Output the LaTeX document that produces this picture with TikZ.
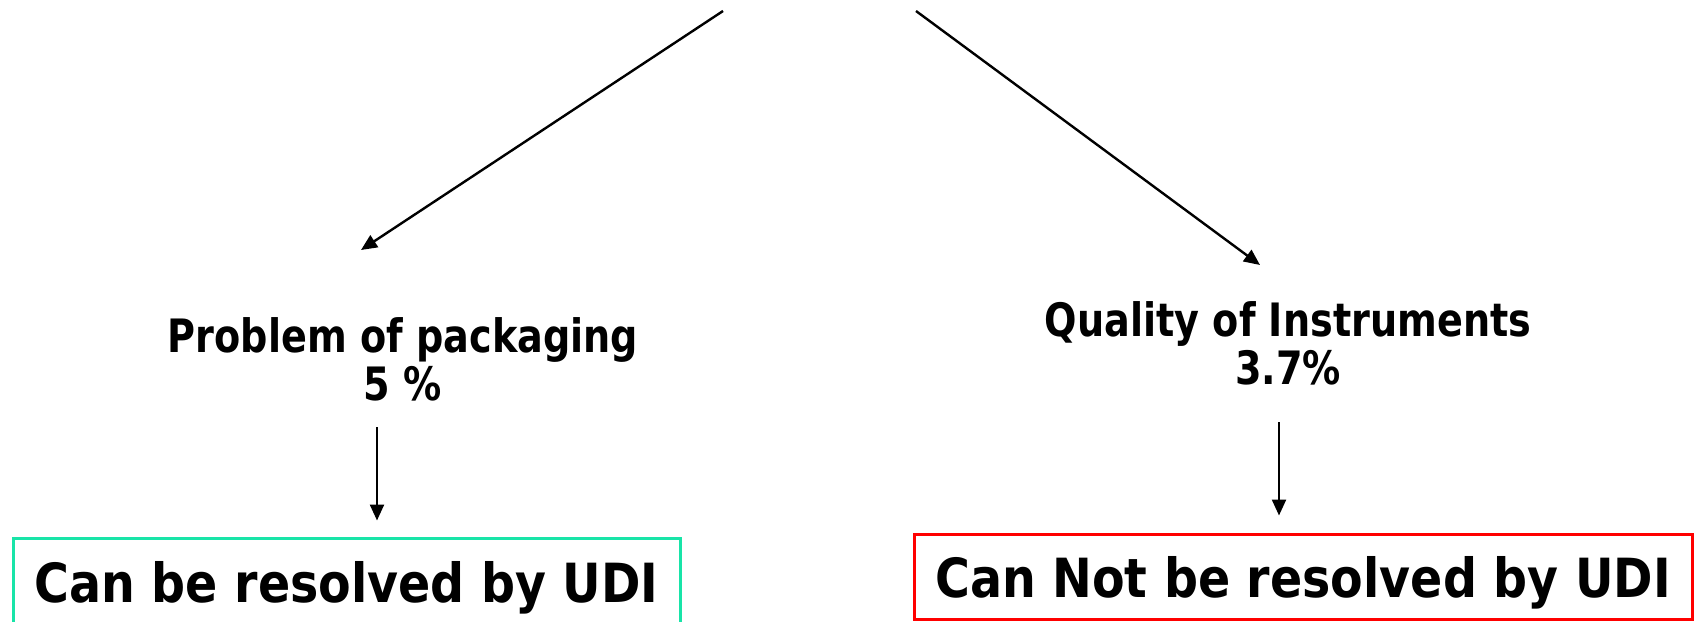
\documentclass[tikz,border=0pt]{standalone}
\usepackage{fontspec}
\setmainfont{DejaVu Sans}
\newfontfamily\labelfont[FakeStretch=0.83]{DejaVu Sans Bold}
\newfontfamily\boxfont[FakeStretch=0.88]{DejaVu Sans Bold}
\usetikzlibrary{arrows.meta}
\definecolor{udigreen}{RGB}{24,228,168}
\definecolor{udired}{RGB}{255,0,0}
\tikzset{
  arr/.style={-{Triangle[length=16pt,width=14pt]}, line width=2.4pt},
  cause/.style={align=center, inner sep=0pt, font=\labelfont\fontsize{46}{48}\selectfont},
  verdict/.style={draw, line width=3pt, inner sep=0pt, text height=44pt, text depth=2pt,
    font=\boxfont\fontsize{54}{60}\selectfont},
}
\begin{document}
\begin{tikzpicture}[x=1pt,y=-1pt]
      \useasboundingbox (0,0) rectangle (1699,621);
      \clip (0,0) rectangle (1699,621);
      \coordinate (top1) at (723,11);
      \coordinate (top2) at (916,11);
      \coordinate (tip1) at (361,250);
      \coordinate (tip2) at (1260,265);
      \coordinate (pkgout) at (377,427);
      \coordinate (qualout) at (1279,422);
      \node[cause] (pkg) at (403,359) {Problem of packaging\\5 \%};
      \node[cause] (qual) at (1288,343) {Quality of Instruments\\3.7\%};
      \node[verdict, draw=udigreen, minimum width=667pt, minimum height=86pt] (ok) at (346.5,581) {Can be resolved by UDI};
      \node[verdict, draw=udired, minimum width=778pt, minimum height=85pt] (nok) at (1303,576.5) {Can Not be resolved by UDI};
      \draw [arr] (top1) -- (tip1);
      \draw [arr] (top2) -- (tip2);
      \draw [arr, shorten >=16pt] (pkgout) -- (pkgout |- ok.north);
      \draw [arr, shorten >=17pt] (qualout) -- (qualout |- nok.north);
    \end{tikzpicture}
\end{document}
